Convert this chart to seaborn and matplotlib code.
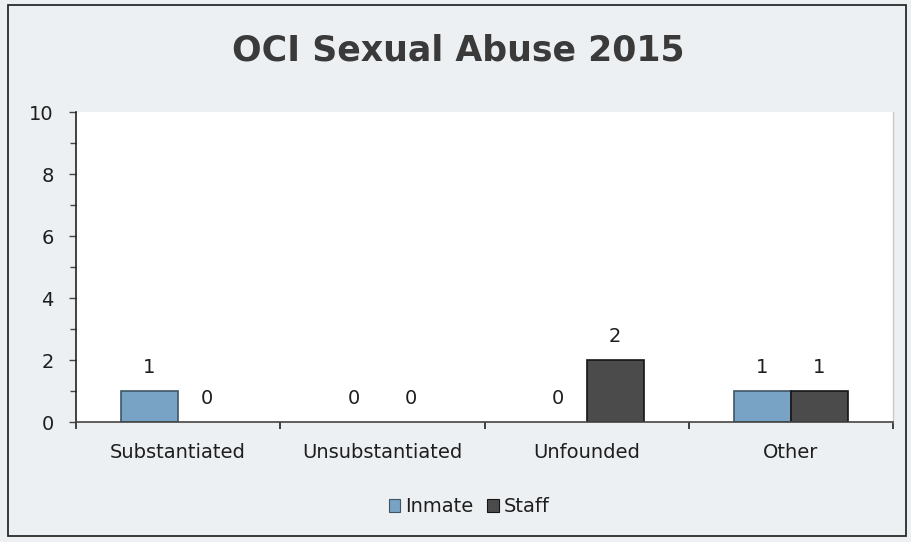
import matplotlib
matplotlib.use("Agg")
import matplotlib.pyplot as plt
import seaborn as sns
import pandas as pd
from matplotlib.patches import Rectangle, Patch
from matplotlib.ticker import MultipleLocator

categories = ["Substantiated", "Unsubstantiated", "Unfounded", "Other"]
series = ["Inmate", "Staff"]
inmate = [1, 0, 0, 1]
staff = [0, 0, 2, 1]
y_ticks = [0, 2, 4, 6, 8, 10]

colors = {"Inmate": "#78a3c4", "Staff": "#4b4b4b"}
edges = {"Inmate": "#3d5566", "Staff": "#151515"}

df = pd.DataFrame({
    "Category": categories * 2,
    "Group": [series[0]] * len(categories) + [series[1]] * len(categories),
    "Count": inmate + staff,
})

sns.set_theme(style="white")
plt.rcParams["font.family"] = ["DejaVu Sans"]

W, H = 912, 542
fig = plt.figure(figsize=(W / 100, H / 100), dpi=100, facecolor="#edf0f2")
ax = fig.add_axes([76 / W, 1 - 422 / H, 817 / W, 310 / H])
ax.set_facecolor("white")

sns.barplot(data=df, x="Category", y="Count", hue="Group", order=categories,
            hue_order=series, palette=colors, width=0.56, saturation=1,
            linewidth=1.2, ax=ax, legend=False)

for cont, name in zip(ax.containers, series):
    for bar in cont:
        bar.set_edgecolor(edges[name])
        if bar.get_height() == 0:
            bar.set_linewidth(0)
    ax.bar_label(cont, labels=[f"{v:g}" for v in cont.datavalues],
                 padding=10, fontsize=14, color="#1e1e1e")

ax.set_ylim(0, 10)
ax.set_xlim(-0.5, len(categories) - 0.5)
ax.set_yticks(y_ticks)
ax.yaxis.set_minor_locator(MultipleLocator(1))
ax.set_xticks([i - 0.5 for i in range(len(categories) + 1)])
ax.set_xticklabels([])
ax.set_xticks(range(len(categories)), minor=True)
ax.set_xticklabels(categories, minor=True)
ax.tick_params(axis="x", which="major", direction="out", length=5, width=1.2,
               color="#222222", bottom=True)
ax.tick_params(axis="x", which="minor", length=0, pad=15, labelsize=14,
               labelcolor="#1e1e1e")
ax.tick_params(axis="y", which="major", direction="out", length=5, width=1,
               color="#444444", left=True, labelsize=14, labelcolor="#1e1e1e", pad=11)
ax.tick_params(axis="y", which="minor", direction="out", length=4, width=1,
               color="#444444", left=True)
ax.set_xlabel("")
ax.set_ylabel("")

ax.spines["top"].set_visible(False)
ax.spines["right"].set_color("#c8c8c8")
ax.spines["right"].set_linewidth(1)
ax.spines["left"].set_color("#222222")
ax.spines["left"].set_linewidth(1.2)
ax.spines["bottom"].set_color("#444444")
ax.spines["bottom"].set_linewidth(1.2)

fig.text(458 / W, 1 - 51 / H, "OCI Sexual Abuse 2015", ha="center", va="center",
         fontsize=25, fontweight="bold", color="#3a3a3a")

handles = [Patch(facecolor=colors[s], edgecolor=edges[s], linewidth=0.8) for s in series]
fig.legend(handles, series, loc="center", bbox_to_anchor=(469 / W, 1 - 507 / H),
           ncol=2, frameon=False, fontsize=14, handlelength=0.6, handleheight=0.6,
           handletextpad=0.25, columnspacing=0.7, labelcolor="#1e1e1e")

fig.patches.append(Rectangle((8 / W, 1 - 536 / H), 898 / W, 531 / H,
                             transform=fig.transFigure, fill=False,
                             edgecolor="#2a2a2a", linewidth=1.3))

fig.savefig("out.png", dpi=100, facecolor=fig.get_facecolor())
